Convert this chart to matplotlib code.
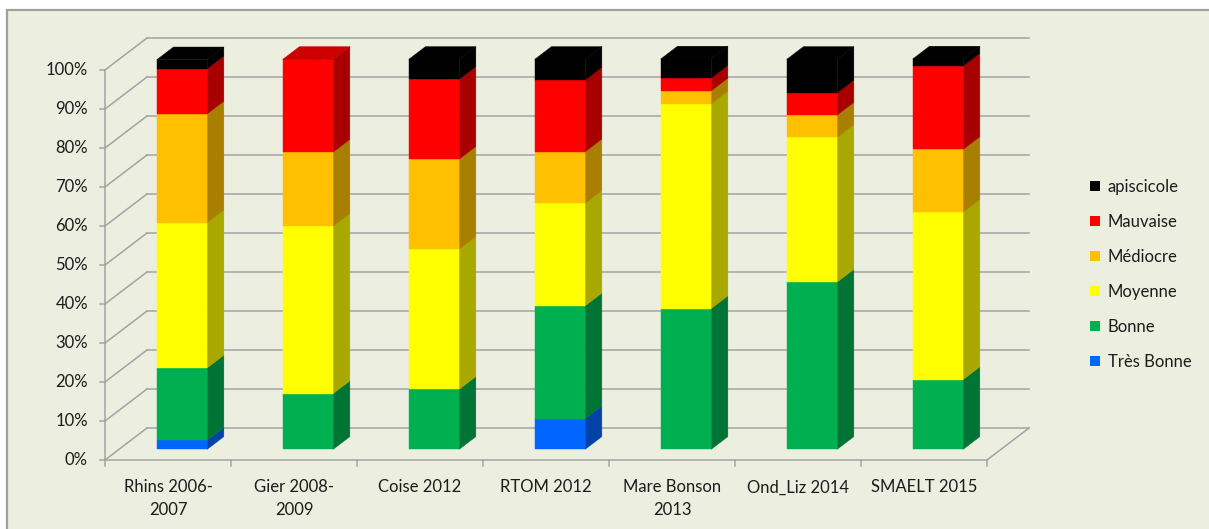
import matplotlib
matplotlib.use("Agg")
import matplotlib.pyplot as plt
from matplotlib.patches import Polygon, Rectangle, Patch
from matplotlib.colors import to_rgb

plt.rcParams['font.family'] = ['Lato', 'DejaVu Sans']

# Share of stations per quality class for each survey (%)
sites = ["Rhins 2006-\n2007", "Gier 2008-\n2009", "Coise 2012", "RTOM 2012",
         "Mare Bonson\n2013", "Ond_Liz 2014", "SMAELT 2015"]
classes = ["Très Bonne", "Bonne", "Moyenne", "Médiocre", "Mauvaise", "apiscicole"]
tres_bonne = [2.3, 0.0, 0.0, 7.9, 0.0, 0.0, 0.0]
bonne = [18.6, 14.3, 15.4, 28.9, 36.1, 42.9, 17.9]
moyenne = [37.2, 42.9, 35.9, 26.3, 52.5, 37.1, 42.9]
mediocre = [27.9, 19.0, 23.1, 13.2, 3.3, 5.7, 16.1]
mauvaise = [11.6, 23.8, 20.5, 18.4, 3.3, 5.7, 21.4]
apiscicole = [2.3, 0.0, 5.1, 5.3, 4.9, 8.6, 1.8]
yticks = [0, 10, 20, 30, 40, 50, 60, 70, 80, 90, 100]

series = [tres_bonne, bonne, moyenne, mediocre, mauvaise, apiscicole]
colors = ["#0066FF", "#00B050", "#FFFF00", "#FFC000", "#FF0000", "#000000"]

W, H = 1209, 529
FS = 12
TXT = "#1c1c1c"
fig = plt.figure(figsize=(W / 100, H / 100), dpi=100)
fig.patch.set_facecolor("white")

ax = fig.add_axes([0, 0, 1, 1])
ax.set_axis_off()
ax.patch.set_alpha(0)

# chart area background and frame
ax.add_patch(Rectangle((7 / W, -0.05), 1.1, (H - 10) / H + 0.05,
                       transform=fig.transFigure, facecolor="#ECEEE0",
                       edgecolor="#A0A0A0", linewidth=1.6, zorder=0, clip_on=False))

# pixel scale of the front plane: 126 px per category, 3.9 px per percent
PX_CAT, PX_PCT, X0, Y0 = 126.0, 3.9, 105.0, 460.0
ax.set_xlim(-X0 / PX_CAT, (W - X0) / PX_CAT)
ax.set_ylim(-(H - Y0) / PX_PCT, Y0 / PX_PCT)

# oblique projection for depth
DX = 42.0 / PX_CAT
DY = 32.0 / PX_PCT


def proj(x, y, z):
    return (x + z * DX, y + z * DY)


n = len(sites)
grid_c = "#A3A3A3"
glw = 1.1

# back wall gridlines and side wall diagonals
for v in yticks:
    xa, ya = proj(0, v, 1)
    xb, yb = proj(n, v, 1)
    ax.plot([xa, xb], [ya, yb], color=grid_c, lw=glw, zorder=1)
    ax.plot([0, xa], [v, ya], color=grid_c, lw=glw, zorder=1)
    ax.plot([0, -5 / PX_CAT], [v, v], color=grid_c, lw=glw, zorder=1)
    ax.text(-17 / PX_CAT, v, f"{v}%", ha="right", va="center",
            fontsize=FS, color=TXT)

# front axis, floor edges
ax.plot([0, 0], [0, 100], color=grid_c, lw=glw, zorder=1)
ax.plot([0, n], [0, 0], color=grid_c, lw=glw, zorder=1)
xe, ye = proj(n, 0, 1)
ax.plot([n, xe], [0, ye], color=grid_c, lw=glw, zorder=1)
for k in range(n + 1):
    ax.plot([k, k], [0, -6 / PX_PCT], color=grid_c, lw=glw, zorder=1)

for i, name in enumerate(sites):
    ax.text(i + 0.5, -19.5 / PX_PCT, name, ha="center", va="top",
            fontsize=FS, color=TXT, linespacing=1.5)


def shade(c, f):
    r, g, b = to_rgb(c)
    return (r * f, g * f, b * f)


# 3D stacked bars
Z0, Z1, HW = 0.333, 0.73, 0.2
for i in range(n):
    x0, x1 = i + 0.5 - HW, i + 0.5 + HW
    base = 0.0
    top_color = None
    for s, col in zip(series, colors):
        h = s[i]
        if h <= 0:
            continue
        t = base + h
        front = [proj(x0, base, Z0), proj(x1, base, Z0), proj(x1, t, Z0), proj(x0, t, Z0)]
        side = [proj(x1, base, Z0), proj(x1, base, Z1), proj(x1, t, Z1), proj(x1, t, Z0)]
        ax.add_patch(Polygon(side, closed=True, facecolor=shade(col, 0.66),
                             edgecolor=shade(col, 0.66), lw=0.3, zorder=3))
        ax.add_patch(Polygon(front, closed=True, facecolor=col,
                             edgecolor=col, lw=0.3, zorder=4))
        base = t
        top_color = col
    if top_color is not None:
        topf = [proj(x0, base, Z0), proj(x1, base, Z0), proj(x1, base, Z1), proj(x0, base, Z1)]
        ax.add_patch(Polygon(topf, closed=True, facecolor=shade(top_color, 0.8),
                             edgecolor=shade(top_color, 0.8), lw=0.3, zorder=4))

handles = [Patch(facecolor=c, edgecolor="none", label=l)
           for c, l in zip(colors[::-1], classes[::-1])]
leg = ax.legend(handles=handles, loc="upper left",
                bbox_to_anchor=(1090 / W, (H - 179) / H), bbox_transform=fig.transFigure,
                frameon=False, fontsize=FS, handlelength=0.6, handleheight=0.6,
                handletextpad=0.45, labelspacing=1.14, borderpad=0, borderaxespad=0)
for t in leg.get_texts():
    t.set_color(TXT)

fig.savefig("out.png", dpi=100)
